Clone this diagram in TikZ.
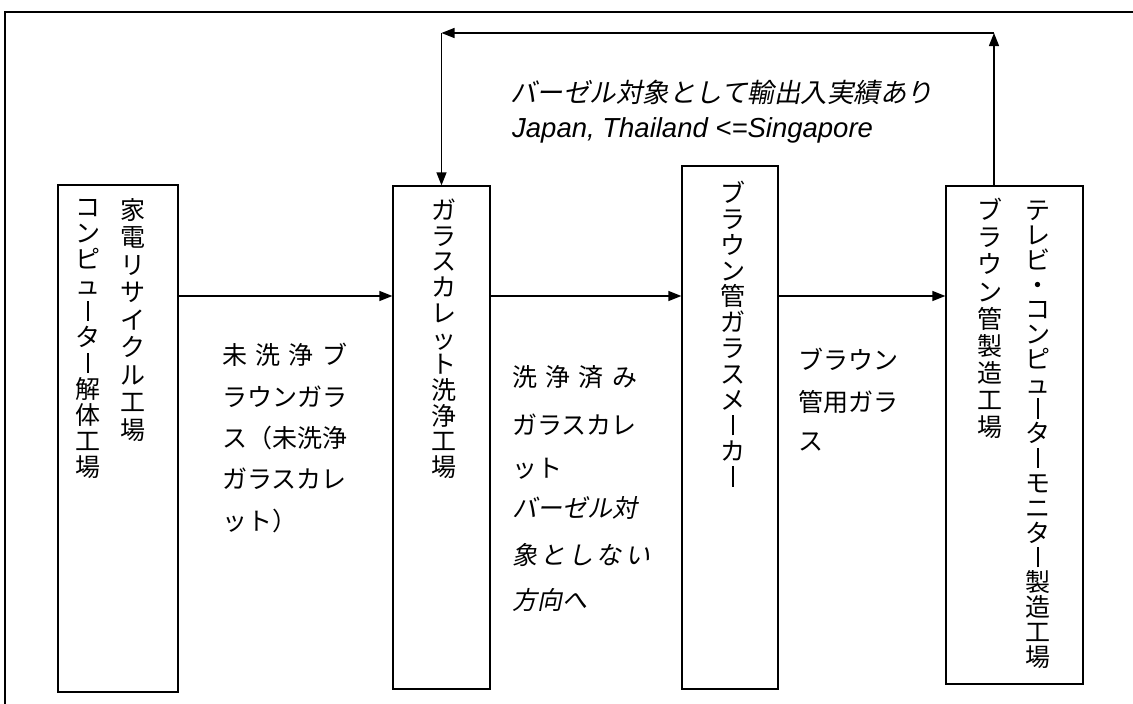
\documentclass[tikz,border=0pt]{standalone}
\usepackage{fontspec}
\setmainfont{Liberation Sans}
\newfontfamily\jp{Noto Sans CJK JP}
\newfontfamily\jpit{Noto Sans CJK JP}[FakeSlant=0.2]
\usetikzlibrary{arrows.meta}
\ExplSyntaxOn
\dim_new:N \l_vt_h_dim
\dim_new:N \l_vt_d_dim
\NewDocumentCommand \vtext { O{26pt} m }
  {
    \dim_set:Nn \l_vt_h_dim { (#1 + 0.76em) / 2 }
    \dim_set:Nn \l_vt_d_dim { (#1 - 0.76em) / 2 }
    \vbox:n
      {
        \offinterlineskip
        \tl_map_inline:nn {#2}
          {
            \hbox_to_wd:nn { 1.2em }
              {
                \hss
                \vrule ~ height ~ \l_vt_h_dim ~ depth ~ \l_vt_d_dim ~ width ~ 0pt
                \str_if_eq:nnTF {##1} {ー}
                  { \hbox_to_wd:nn {1em} { \hss \vrule ~ width ~ 0.07em ~ height ~ 0.8em ~ depth ~ 0.02em \hss } }
                  { ##1 }
                \hss
              }
          }
      }
  }
\ExplSyntaxOff
\begin{document}
\begin{tikzpicture}[x=1pt,y=-1pt,
  box/.style={draw, line width=1.3pt, inner sep=0pt},
  vcol/.style={anchor=north, inner sep=0pt, font=\jp\fontsize{25}{25}\selectfont},
  lab/.style={anchor=west, inner sep=0pt, text height=22pt, text depth=3pt,
    font=\jp\fontsize{25}{25}\selectfont},
  labit/.style={lab, font=\jpit\fontsize{25}{25}\selectfont},
  arr/.style={line width=1.3pt, -{Triangle[length=13pt,width=10pt]}},
  frame/.style={line width=1.3pt}]
\useasboundingbox (0,0) rectangle (1133,704);
% outer frame
\coordinate (fr1) at (1133,12);
\coordinate (fr2) at (5,12);
\coordinate (fr3) at (5,704);
\draw[frame] (fr1) -- (fr2) -- (fr3);
% boxes
\node[box, minimum width=120pt, minimum height=507pt] (b1) at (118,438.5) {};
\node[box, minimum width=97pt, minimum height=503pt] (b2) at (441.5,437.5) {};
\node[box, minimum width=96pt, minimum height=523pt] (b3) at (730,427.5) {};
\node[box, minimum width=137pt, minimum height=498pt] (b4) at (1014.5,435) {};
% vertical texts
\node[vcol] (t1a) at (133,196) {\vtext[27.5pt]{家電リサイクル工場}};
\node[vcol] (t1b) at (88,194) {\vtext[26pt]{コンピューター解体工場}};
\node[vcol] (t2) at (444,197) {\vtext[25.7pt]{ガラスカレット洗浄工場}};
\node[vcol] (t3) at (733,180) {\vtext[25.8pt]{ブラウン管ガラスメーカー}};
\node[vcol] (t4a) at (1038,197.5) {\vtext[24.8pt]{テレビ・コンピューターモニター製造工場}};
\node[vcol] (t4b) at (990,196.5) {\vtext[27.1pt]{ブラウン管製造工場}};
% horizontal arrows
\coordinate (ya) at (0,296);
\draw[arr] (b1.east |- ya) -- (b2.west |- ya);
\draw[arr] (b2.east |- ya) -- (b3.west |- ya);
\draw[arr] (b3.east |- ya) -- (b4.west |- ya);
% feedback arrows
\coordinate (c1) at (994,33);
\coordinate (c2) at (441.5,33);
\draw[arr] (b4.north -| c1) -- (c1);
\draw[arr] (c1) -- (c2);
\draw[arr] (c2) -- (b2.north);
% top label
\node[labit, font=\jpit\fontsize{26.5}{26.5}\selectfont] (top1) at (510,93) {バーゼル対象として輸出入実績あり};
\node[anchor=west, inner sep=0pt, font=\fontsize{27.5}{27.5}\selectfont\itshape] (top2) at (512,130) {Japan, Thailand <=Singapore};
% label A
\node[lab] (la1) at (222,355) {\makebox[125pt][s]{未\hfill 洗\hfill 浄\hfill ブ}};
\node[lab] (la2) at (222,397) {ラウンガラ};
\node[lab] (la3) at (222,438) {ス（未洗浄};
\node[lab] (la4) at (222,479) {ガラスカレ};
\node[lab] (la5) at (222,521) {ット）};
% label B
\node[lab] (lb1) at (512,377) {\makebox[125pt][s]{洗\hfill 浄\hfill 済\hfill み}};
\node[lab] (lb2) at (512,425) {ガラスカレ};
\node[lab] (lb3) at (512,468) {ット};
\node[labit] (lb4) at (512,508) {バーゼル対};
\node[labit] (lb5) at (512,555) {\makebox[138pt][s]{象\hfill と\hfill し\hfill な\hfill い}};
\node[labit] (lb6) at (512,600) {方向へ};
% label C
\node[lab] (lc1) at (798,360) {ブラウン};
\node[lab] (lc2) at (798,402) {管用ガラ};
\node[lab] (lc3) at (798,441) {ス};
\end{tikzpicture}
\end{document}
